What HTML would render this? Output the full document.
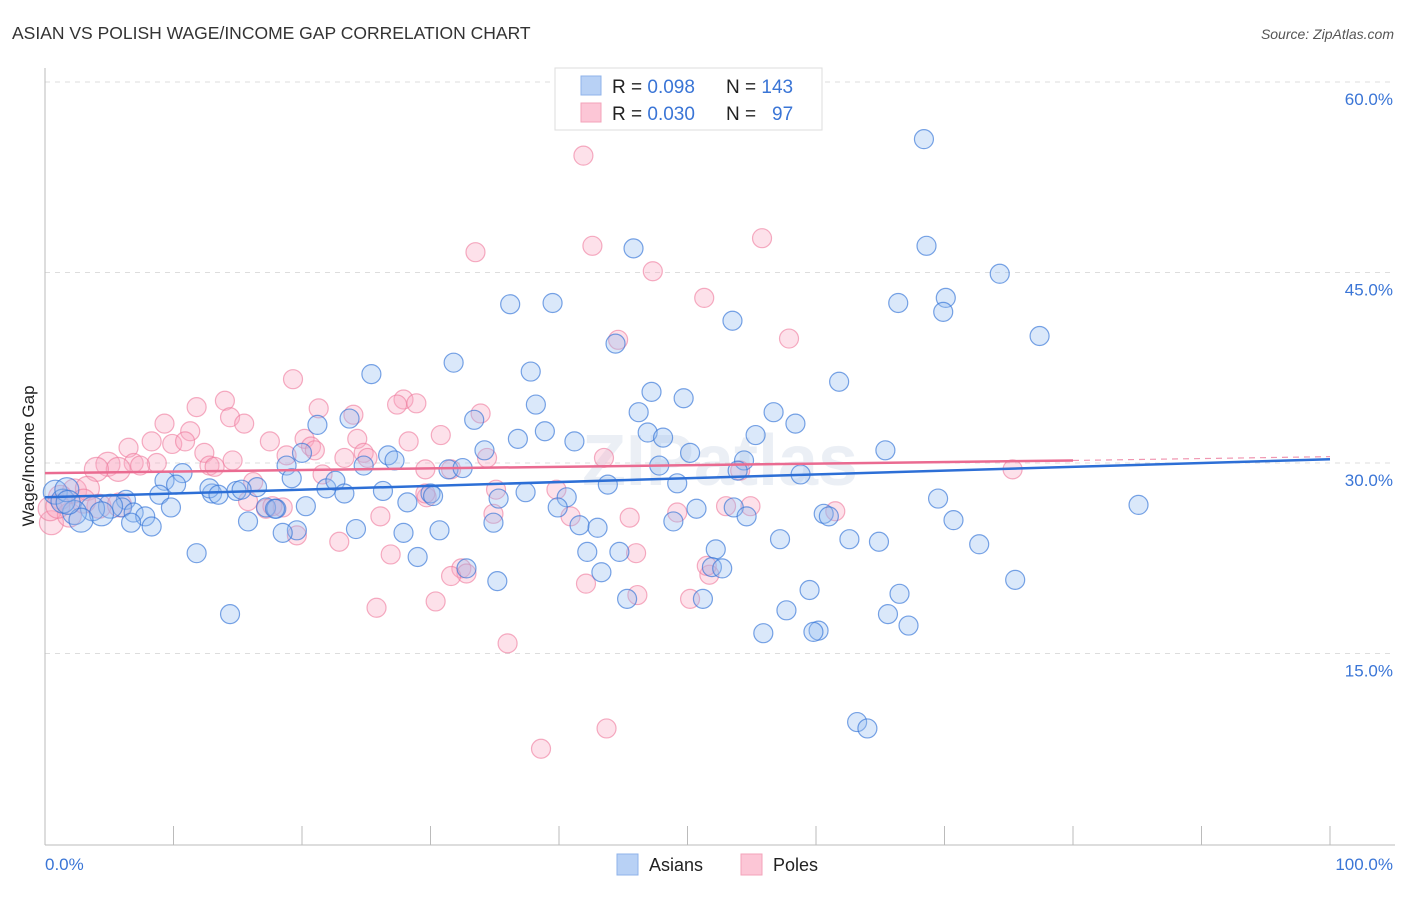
<!DOCTYPE html>
<html><head><meta charset="utf-8">
<style>
html,body{margin:0;padding:0;background:#fff;}
body{width:1406px;height:892px;overflow:hidden;font-family:"Liberation Sans",sans-serif;}
</style></head>
<body>
<svg id="chart" width="1406" height="892" viewBox="0 0 1406 892" xmlns="http://www.w3.org/2000/svg" font-family="Liberation Sans, sans-serif">
<text x="12" y="39" font-size="17.5" fill="#333">ASIAN VS POLISH WAGE/INCOME GAP CORRELATION CHART</text>
<text x="1394" y="39" font-size="14" fill="#555" font-style="italic" text-anchor="end">Source: ZipAtlas.com</text>
<text x="720" y="485" font-size="72" fill="#dfe6f0" text-anchor="middle" font-weight="bold" opacity="0.6">ZIPatlas</text>
<g id="grid"></g>
<g id="axes"></g>
<g id="poles"></g>
<g id="asians"></g>
<g id="lines"></g>
<text transform="translate(34,456) rotate(-90)" font-size="17" fill="#222" text-anchor="middle">Wage/Income Gap</text>
<text x="45" y="870" font-size="17" fill="#3a75d6">0.0%</text>
<text x="1393" y="870" font-size="17" fill="#3a75d6" text-anchor="end">100.0%</text>
<g>
<rect x="555" y="68" width="267" height="62" fill="#fff" stroke="#ddd"/>
<rect x="581" y="76" width="20" height="19" fill="#b8d1f5" stroke="#8fb3ea"/>
<rect x="581" y="103" width="20" height="19" fill="#fcc6d6" stroke="#f3a3ba"/>
<text x="612" y="93" font-size="19" fill="#222">R = <tspan fill="#3a75d6">0.098</tspan><tspan x="726">N = </tspan><tspan fill="#3a75d6">143</tspan></text>
<text x="612" y="120" font-size="19" fill="#222">R = <tspan fill="#3a75d6">0.030</tspan><tspan x="726">N = </tspan><tspan fill="#3a75d6" x="772">97</tspan></text>
</g>
<g>
<rect x="617" y="854" width="21" height="21" fill="#b8d1f5" stroke="#8fb3ea"/>
<text x="649" y="871" font-size="18" fill="#222">Asians</text>
</g>
<g>
<rect x="741" y="854" width="21" height="21" fill="#fcc6d6" stroke="#f3a3ba"/>
<text x="773" y="871" font-size="18" fill="#222">Poles</text>
</g>
</svg>
<script>
const yTicks=[15,30,45,60];
const yTickLabels=["15.0%","30.0%","45.0%","60.0%"];
const xTicks=[0,10,20,30,40,50,60,70,80,90,100];
const asianX=[68.4,68.6,74.3,70.1,69.9,66.4,77.4,45.8,36.2,39.5,53.5,44.4,31.8,37.8,25.4,61.8,47.2,49.7,38.2,46.2,56.7,23.7,33.4,58.4,38.9,46.9,55.3,21.2,36.8,48.1,41.2,34.2,65.4,50.2,26.7,54.4,27.2,20.0,18.8,47.8,31.4,32.5,24.8,53.9,58.8,10.7,9.3,10.2,19.2,16.5,21.9,22.6,14.9,13.0,12.8,13.5,15.3,8.9,6.3,26.3,23.3,30.0,30.2,35.3,37.4,40.6,43.8,49.2,69.5,85.1,9.8,6.0,5.1,3.7,2.3,4.4,6.9,7.8,17.2,18.0,20.3,28.2,39.9,50.7,53.6,60.6,61.0,70.7,15.8,34.9,48.9,54.6,6.7,8.3,2.8,0.8,1.4,1.7,24.2,30.7,27.9,19.6,18.5,41.6,43.0,62.6,64.9,72.7,57.2,44.7,52.2,42.2,11.8,29.0,32.8,51.9,52.7,43.3,75.5,35.2,59.5,66.5,45.3,51.2,57.7,65.6,14.4,67.2,55.9,60.2,59.8,63.2,64.0,17.9,1.8];
const asianY=[55.5,47.1,44.9,43.0,41.9,42.6,40.0,46.9,42.5,42.6,41.2,39.4,37.9,37.2,37.0,36.4,35.6,35.1,34.6,34.0,34.0,33.5,33.4,33.1,32.5,32.4,32.2,33.0,31.9,32.0,31.7,31.0,31.0,30.8,30.6,30.2,30.2,30.8,29.8,29.8,29.5,29.6,29.8,29.4,29.1,29.2,28.6,28.3,28.8,28.1,28.0,28.6,27.8,27.6,28.0,27.5,27.9,27.5,27.1,27.8,27.6,27.6,27.4,27.2,27.7,27.3,28.3,28.4,27.2,26.7,26.5,26.5,26.6,26.4,26.1,26.0,26.1,25.8,26.5,26.4,26.6,26.9,26.5,26.4,26.5,26.0,25.8,25.5,25.4,25.3,25.4,25.8,25.3,25.0,25.5,27.7,27.0,27.9,24.8,24.7,24.5,24.7,24.5,25.1,24.9,24.0,23.8,23.6,24.0,23.0,23.2,23.0,22.9,22.6,21.7,21.8,21.7,21.4,20.8,20.7,20.0,19.7,19.3,19.3,18.4,18.1,18.1,17.2,16.6,16.8,16.7,9.6,9.1,26.4,26.9];
const poleX=[41.9,42.6,33.5,47.3,55.8,51.3,44.6,57.9,19.3,14.0,27.9,28.9,27.4,33.9,11.8,21.3,14.4,24.0,9.3,15.5,11.3,30.8,8.3,9.9,10.9,12.4,20.2,24.3,28.3,6.5,6.9,4.9,8.7,14.6,17.5,20.7,21.0,18.8,23.3,24.8,25.1,34.4,43.5,12.8,5.7,7.4,4.0,29.6,31.6,54.1,75.3,13.2,21.6,16.2,35.1,39.8,29.7,29.6,15.8,26.1,34.9,40.9,45.5,49.2,53.0,54.9,61.5,17.2,18.5,17.7,19.6,22.9,26.9,32.4,32.8,31.6,42.1,46.1,50.2,51.7,51.5,46.0,25.8,30.4,36.0,38.6,43.7,2.3,3.3,1.2,0.5,0.4,1.9,4.2,3.0,1.0,5.8];
const poleY=[54.2,47.1,46.6,45.1,47.7,43.0,39.7,39.8,36.6,34.9,35.0,34.7,34.6,33.9,34.4,34.3,33.6,33.8,33.1,33.1,32.5,32.2,31.7,31.5,31.7,30.8,31.9,31.9,31.7,31.2,30.0,29.9,30.0,30.2,31.7,31.3,31.0,30.6,30.4,30.8,30.4,30.4,30.4,29.8,29.5,29.8,29.5,29.5,29.5,29.4,29.5,29.7,29.1,28.5,27.9,27.9,27.3,27.6,27.0,25.8,26.0,25.8,25.7,26.1,26.6,26.6,26.2,26.4,26.5,26.6,24.3,23.8,22.8,21.7,21.3,21.1,20.5,19.6,19.3,21.2,21.9,22.9,18.6,19.1,15.8,7.5,9.1,27.8,28.0,27.3,25.3,26.4,25.9,26.6,27.0,26.6,26.7];
const asianTrend=[27.3,30.3];
const poleTrend=[29.2,30.2,30.5];

const NS="http://www.w3.org/2000/svg";
const X=v=>45+v*12.85;
const Y=v=>844-v*12.7;
function mk(tag,attrs,parent){const e=document.createElementNS(NS,tag);for(const k in attrs)e.setAttribute(k,attrs[k]);parent.appendChild(e);return e;}
const grid=document.getElementById('grid'),axes=document.getElementById('axes');
yTicks.forEach((t,i)=>{
  const l=mk('line',{x1:45,x2:1395,y1:Y(t),y2:Y(t),stroke:'#ddd','stroke-dasharray':'5,5'},grid);
  
  
  const tx=mk('text',{x:1393,y:Y(t)+23,'font-size':17,fill:'#3a75d6','text-anchor':'end'},grid);
  tx.textContent=yTickLabels[i];
  
  
});
const ax=mk('line',{x1:45,x2:1395,y1:845,y2:845,stroke:'#bbb'},axes);


const ay=mk('line',{x1:45,x2:45,y1:68,y2:845,stroke:'#bbb'},axes);


xTicks.forEach(t=>{
  const l=mk('line',{x1:X(t),x2:X(t),y1:826,y2:845,stroke:'#bbb'},axes);
  
  
});
function pts(xs,ys,g,fill,stroke,name){
  xs.forEach((x,i)=>{
    const r=x<6?12:9.5;
    const c=mk('circle',{cx:X(x),cy:Y(ys[i]),r:r,fill:fill,stroke:stroke,'stroke-width':1.2},g);
    
    
  });
}
pts(poleX,poleY,document.getElementById('poles'),'rgba(248,170,195,0.35)','rgba(238,120,155,0.6)','pole-point');
pts(asianX,asianY,document.getElementById('asians'),'rgba(150,190,240,0.35)','rgba(50,115,215,0.65)','asian-point');
const lg=document.getElementById('lines');
const bl=mk('line',{x1:X(0),y1:Y(asianTrend[0]),x2:X(100),y2:Y(asianTrend[1]),stroke:'#2d6fd6','stroke-width':2.5},lg);


const pl=mk('line',{x1:X(0),y1:Y(poleTrend[0]),x2:X(80),y2:Y(poleTrend[1]),stroke:'#ea6b91','stroke-width':2.5},lg);


const pd=mk('line',{x1:X(80),y1:Y(poleTrend[1]),x2:X(100),y2:Y(poleTrend[2]),stroke:'#ea6b91','stroke-width':1.2,'stroke-dasharray':'6,5',opacity:0.7},lg);


</script>
</body></html>
